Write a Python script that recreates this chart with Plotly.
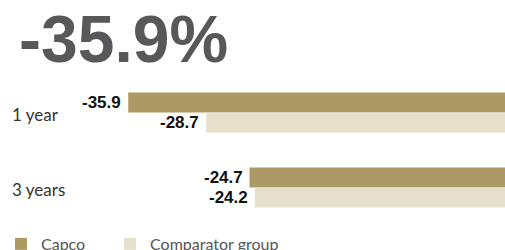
import plotly.graph_objects as go

categories = ["1 year", "3 years"]
capco = [-35.9, -24.7]
comparator = [-28.7, -24.2]
headline = "-35.9%"

CAPCO_COLOR = "#AD9963"
COMP_COLOR = "#E5DFCC"

fig = go.Figure()
fig.add_trace(go.Bar(
    y=categories, x=capco, orientation="h", name="Capco",
    marker=dict(color=CAPCO_COLOR, line=dict(width=0)),
    legend="legend",
))
fig.add_trace(go.Bar(
    y=categories, x=comparator, orientation="h", name="Comparator group",
    marker=dict(color=COMP_COLOR, line=dict(width=0)),
    legend="legend2",
))

annotations = []
for i, cat in enumerate(categories):
    for vals, yshift in ((capco, 10), (comparator, -10)):
        annotations.append(dict(
            x=vals[i], y=cat, xref="x", yref="y",
            text="<b>%.1f</b>" % vals[i], showarrow=False,
            xanchor="right", yanchor="middle", xshift=-5, yshift=yshift,
            font=dict(family="Liberation Sans", size=17, color="#111111"),
        ))
    annotations.append(dict(
        x=0, y=cat, xref="paper", yref="y", text=cat, showarrow=False,
        xanchor="left", yanchor="middle", xshift=10, yshift=-2,
        font=dict(family="Lato", size=17, color="#333333"),
    ))
annotations.append(dict(
    x=0, y=1, xref="paper", yref="paper", text="<b>%s</b>" % headline,
    showarrow=False, xanchor="left", yanchor="bottom", xshift=17, yshift=-3,
    font=dict(family="Liberation Sans", size=66, color="#58585A"),
))

legend_font = dict(family="Lato", size=16, color="#555555")
fig.update_layout(
    width=505, height=250,
    margin=dict(l=0, r=0, t=75, b=25),
    paper_bgcolor="white", plot_bgcolor="white",
    barmode="group", bargap=0.467, bargroupgap=0,
    showlegend=True,
    legend=dict(orientation="h", xref="container", yref="container",
                x=0.002, xanchor="left", y=0.024, yanchor="middle",
                font=legend_font, bgcolor="rgba(0,0,0,0)"),
    legend2=dict(orientation="h", xref="container", yref="container",
                 x=0.218, xanchor="left", y=0.024, yanchor="middle",
                 font=legend_font, bgcolor="rgba(0,0,0,0)"),
    xaxis=dict(range=[-47.74, -1.11], visible=False, fixedrange=True),
    yaxis=dict(visible=False, autorange=False, range=[1.5, -0.5],
               categoryorder="array", categoryarray=categories),
    annotations=annotations,
)

fig.write_html("out.html", config={"displayModeBar": False},
               post_script="document.body.style.margin='0';")
